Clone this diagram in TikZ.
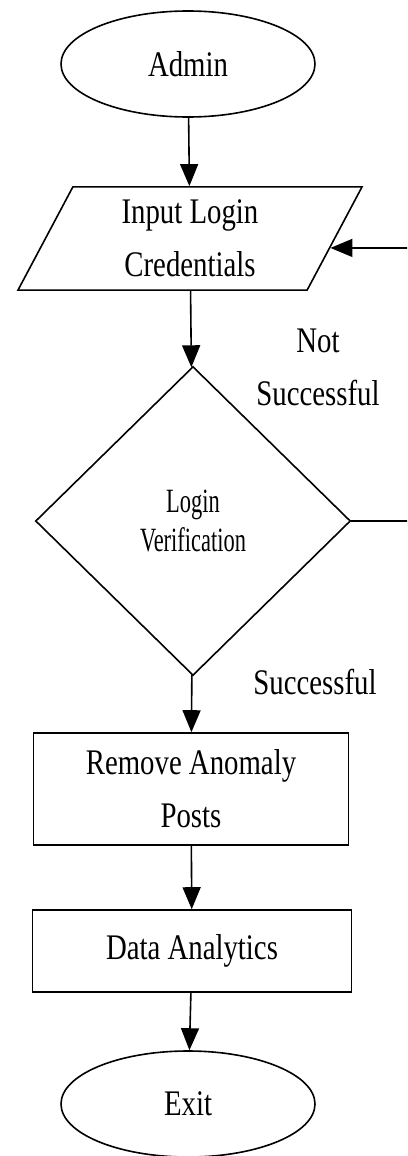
\documentclass[tikz,border=0pt]{standalone}
\usepackage{fontspec}
\setmainfont{Liberation Serif}[FakeStretch=0.8]
\newfontfamily\narrowfont{Liberation Serif}[FakeStretch=0.66]
\usetikzlibrary{shapes.geometric, arrows.meta, calc}

\begin{document}
\begin{tikzpicture}[x=0.5pt,y=-0.5pt,line width=0.8pt,
        >={Triangle[length=11pt,width=9pt]},
        every node/.style={font=\fontsize{18}{26.5}\selectfont,align=center,inner sep=0pt},
        terminal/.style={draw,ellipse,minimum width=127pt,minimum height=53pt},
        io/.style={draw,trapezium,trapezium left angle=62,trapezium right angle=118,
            trapezium stretches body,inner ysep=6.5pt,minimum width=172pt},
        decision/.style={draw,diamond,minimum width=157.5pt,minimum height=154.5pt,
            font=\narrowfont\fontsize{17}{19.5}\selectfont},
        process/.style={draw,rectangle,minimum width=157.5pt,minimum height=56pt}]
        \useasboundingbox (0,0) rectangle (407,1156);
        \clip (0,0) rectangle (407,1156);
        % flow nodes
        \node[terminal](admin) at (188,64) {Admin};
        \node[io](input) at (190,238.5) {Input Login\\Credentials};
        \node[decision](verify) at (193,521) {Login\\Verification};
        \node[process](remove) at (191,789) {Remove Anomaly\\Posts};
        \node[process,minimum width=159.5pt,minimum height=41pt](data) at (192,951) {Data Analytics};
        \node[terminal](exit) at (188,1104) {Exit};
        % branch labels
        \node(lbl_fail) at (318,367) {Not\\Successful};
        \node(lbl_ok) at (315,682) {Successful};
        \path[->](admin)  edge (input)
                (input)  edge (verify)
                (verify) edge (remove)
                (remove) edge (data)
                (data)   edge (exit);
        % retry loop, runs off the right edge
        \coordinate (ret) at ($(input.bottom right corner)!0.41!(input.top right corner)$);
        \draw[->] (verify.east) -- ++(100,0) |- (ret);
\end{tikzpicture}
\end{document}
